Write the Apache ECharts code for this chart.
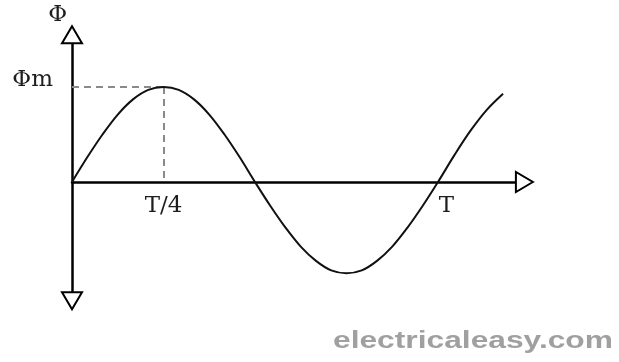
<!DOCTYPE html>
<html>
<head>
<meta charset="utf-8">
<script src="https://cdn.jsdelivr.net/npm/echarts@6/dist/echarts.min.js"></script>
<style>
html,body{margin:0;padding:0;background:#fff;}
#chart{width:619px;height:362px;}
</style>
</head>
<body>
<div id="chart"></div>
<script>
// phase angle in degrees (T = 360) and flux readings (Φm = 1)
var phase = [0,15,30,45,60,75,90,105,120,135,150,165,180,195,210,225,240,255,270,285,300,315,330,345,360,376,392,408,424];
var flux  = [0,0.26,0.5,0.71,0.87,0.97,1,0.97,0.87,0.71,0.5,0.26,0,-0.25,-0.48,-0.68,-0.83,-0.93,-0.96,-0.93,-0.83,-0.68,-0.48,-0.25,0,0.28,0.54,0.76,0.93];
var xTickValues = [90, 360];
var xTickLabels = ['T/4', 'T'];
var yTickValues = [1];
var yTickLabels = ['Φm'];
var peakX = 90, peakY = 1;
var xRange = [0, 445];
var yRange = [-1.25, 1.55];
var watermark = 'electricaleasy.com';

var chart = echarts.init(document.getElementById('chart'));
var serif = '"DejaVu Serif","Liberation Serif",serif';
var labelColor = '#1e1e1e';
var option = {
  animation: false,
  backgroundColor: '#fff',
  grid: {left: 72, top: 34.75, width: 452.4, height: 266, containLabel: false, outerBoundsMode: 'none'},
  xAxis: {
    type: 'value', min: xRange[0], max: xRange[1],
    axisLine: {onZero: true, lineStyle: {color: '#000', width: 2.5}, symbol: ['none', 'emptyTriangle'], symbolSize: [20, 17]},
    axisTick: {show: false},
    splitLine: {show: false},
    axisLabel: {
      customValues: xTickValues,
      margin: -106,
      color: labelColor,
      fontFamily: serif,
      fontSize: 23,
      formatter: function (v) {
        var i = xTickValues.indexOf(v);
        if (i < 0) return '';
        return i === 1 ? '{t|' + xTickLabels[i] + '}' : xTickLabels[i];
      },
      rich: {t: {fontFamily: serif, fontSize: 23, color: labelColor, padding: [0, 0, 0, 17]}}
    }
  },
  yAxis: {
    type: 'value', min: yRange[0], max: yRange[1],
    name: 'Φ', nameLocation: 'end', nameGap: 8,
    nameTextStyle: {fontFamily: serif, fontSize: 23, color: labelColor, align: 'right', padding: [0, 5, 0, 0]},
    axisLine: {onZero: true, lineStyle: {color: '#000', width: 2.5}, symbol: ['emptyTriangle', 'emptyTriangle'], symbolSize: [20, 17]},
    axisTick: {show: false},
    splitLine: {show: false},
    axisLabel: {
      customValues: yTickValues,
      margin: 19,
      color: labelColor,
      fontFamily: serif,
      fontSize: 23,
      verticalAlign: 'bottom',
      lineHeight: 14,
      formatter: function (v) {
        var i = yTickValues.indexOf(v);
        return i < 0 ? '' : yTickLabels[i];
      }
    }
  },
  series: [{
    type: 'line',
    data: phase.map(function (p, i) { return [p, flux[i]]; }),
    smooth: 0.35,
    showSymbol: false,
    lineStyle: {color: '#111', width: 2},
    z: 5,
    markLine: {
      silent: true,
      symbol: ['none', 'none'],
      label: {show: false},
      lineStyle: {color: '#8a8a8a', width: 2, type: [7, 5]},
      data: [
        [{coord: [0, peakY]}, {coord: [peakX, peakY]}],
        [{coord: [peakX, peakY]}, {coord: [peakX, 0.04]}]
      ]
    }
  }],
  graphic: [{
    type: 'text',
    x: 333,
    y: 342,
    scaleX: 1.38,
    style: {text: watermark, font: 'bold 23px "Liberation Sans", Arial, sans-serif', fill: '#a0a0a0', verticalAlign: 'middle'}
  }]
};
chart.setOption(option);
</script>
</body>
</html>
